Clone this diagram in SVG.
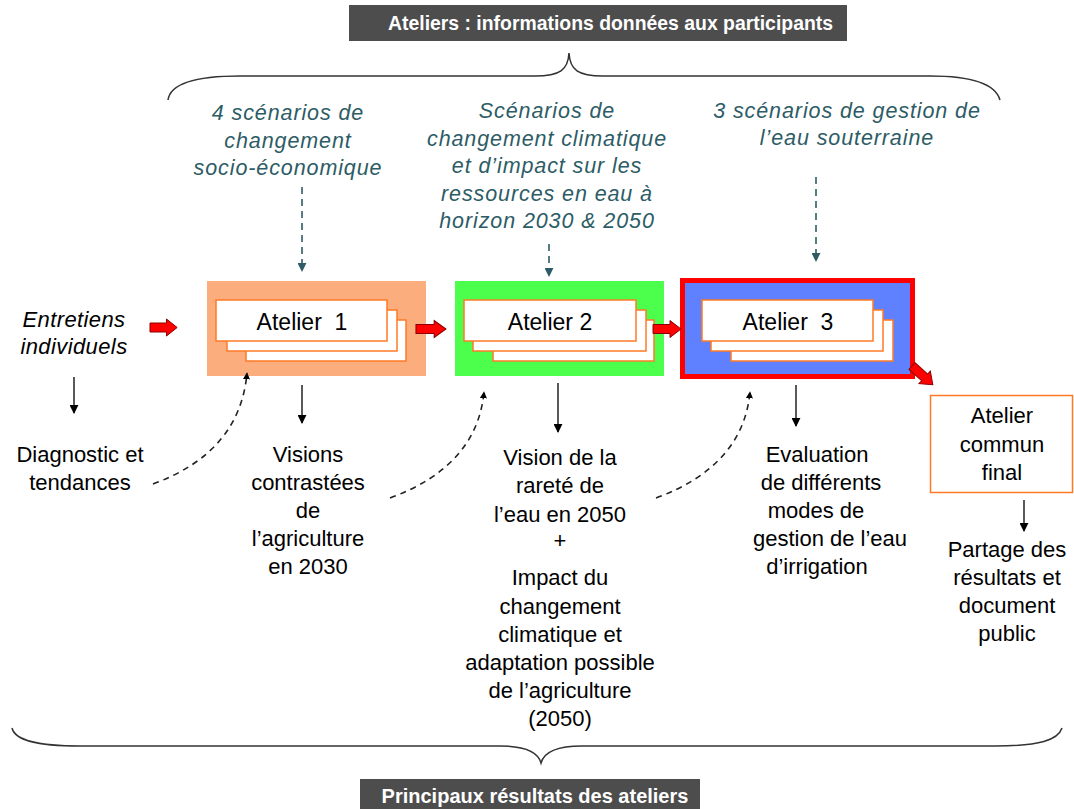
<svg xmlns="http://www.w3.org/2000/svg" width="1074" height="809" viewBox="0 0 1074 809">
<style>
.t{font-family:"Liberation Sans",Arial,sans-serif;font-size:22px;fill:#000;text-anchor:middle}
.it{font-family:"Liberation Sans",Arial,sans-serif;font-size:21.5px;font-style:italic;fill:#2d5c66;text-anchor:middle;letter-spacing:0.9px}
.at{font-family:"Liberation Sans",Arial,sans-serif;font-size:23px;fill:#000;text-anchor:middle}
.card{fill:#fff;stroke:#ff7a26;stroke-width:1.5}
.hdr{fill:#4d4d4d}
.ht{font-family:"Liberation Sans",Arial,sans-serif;fill:#fff}
.brace{fill:none;stroke:#333;stroke-width:1.5}
.dash{fill:none;stroke:#222;stroke-width:1.6;stroke-dasharray:6 5}
.tdash{fill:none;stroke:#2d5c66;stroke-width:1.6;stroke-dasharray:7 5}
.solid{fill:none;stroke:#000;stroke-width:1.3}
.red{fill:#ff0000;stroke:#8a0000;stroke-width:1}
</style>
<defs>
<marker id="ab" viewBox="0 0 10 10" refX="9" refY="5" markerWidth="7" markerHeight="7" markerUnits="userSpaceOnUse" orient="auto"><path d="M0,0 L10,5 L0,10 Z" fill="#000"/></marker>
<marker id="ab2" viewBox="0 0 10 10" refX="9" refY="5" markerWidth="9" markerHeight="9" markerUnits="userSpaceOnUse" orient="auto"><path d="M0,0 L10,5 L0,10 Z" fill="#000"/></marker>
<marker id="at" viewBox="0 0 10 10" refX="9" refY="5" markerWidth="9" markerHeight="9" markerUnits="userSpaceOnUse" orient="auto"><path d="M0,0 L10,5 L0,10 Z" fill="#2d5c66"/></marker>
<path id="rarrow" d="M0,-4.5 L17,-4.5 L17,-8.5 L28,0 L17,8.5 L17,4.5 L0,4.5 Z"/>
</defs>

<g id="header-top">
<rect class="hdr" x="349" y="5" width="498" height="36"/>
<text class="ht" x="388" y="30" font-size="19.4" font-weight="bold">Ateliers : informations données aux participants</text>
</g>
<g id="header-bottom">
<rect class="hdr" x="360" y="779" width="340" height="32"/>
<text class="ht" x="535" y="803" font-size="20" font-weight="bold" text-anchor="middle">Principaux résultats des ateliers</text>
</g>

<g id="braces">
<path class="brace" d="M168,100 C170,86 190,76 240,76 L535,76 C560,76 568,70 569,53 C570,70 578,76 603,76 L930,76 C976,76 996,86 1000,100"/>
<path class="brace" d="M12,728 C15,740 35,746 80,746 L500,746 C526,746 538,752 541,763 C544,752 556,746 582,746 L995,746 C1040,746 1058,740 1062,728"/>
</g>

<g id="scenario1">
<text class="it" x="288" y="120">4 scénarios de</text>
<text class="it" x="288" y="148">changement</text>
<text class="it" x="288" y="175">socio-économique</text>
</g>
<g id="scenario2">
<text class="it" x="547" y="118">Scénarios de</text>
<text class="it" x="547" y="146">changement climatique</text>
<text class="it" x="547" y="173">et d’impact sur les</text>
<text class="it" x="547" y="201">ressources en eau à</text>
<text class="it" x="547" y="228">horizon 2030 &amp; 2050</text>
</g>
<g id="scenario3">
<text class="it" x="847" y="118">3 scénarios de gestion de</text>
<text class="it" x="847" y="145">l’eau souterraine</text>
</g>

<g id="entretiens">
<text class="t" x="74" y="327" font-style="italic" letter-spacing="0.4">Entretiens</text>
<text class="t" x="74" y="354" font-style="italic" letter-spacing="0.4">individuels</text>
</g>

<g id="atelier1">
<rect x="207" y="281" width="219" height="95" fill="#fbad7e"/>
<rect class="card" x="246" y="320" width="160" height="41"/>
<rect class="card" x="227" y="310" width="170" height="41"/>
<rect class="card" x="216" y="300" width="171" height="41"/>
<text class="at" x="302" y="330" xml:space="preserve">Atelier  1</text>
</g>
<g id="atelier2">
<rect x="455" y="281" width="209" height="95" fill="#4dff4d"/>
<rect class="card" x="493" y="320" width="161" height="41"/>
<rect class="card" x="473" y="310" width="173" height="41"/>
<rect class="card" x="464" y="300" width="172" height="41"/>
<text class="at" x="550" y="330">Atelier 2</text>
</g>
<g id="atelier3">
<rect x="682.5" y="280.5" width="230" height="96" fill="#5f80ff" stroke="#ff0000" stroke-width="5"/>
<rect class="card" x="731" y="320" width="162" height="41"/>
<rect class="card" x="711" y="310" width="172" height="41"/>
<rect class="card" x="702" y="300" width="171" height="41"/>
<text class="at" x="788" y="330" xml:space="preserve">Atelier  3</text>
</g>
<g id="atelier-final">
<rect x="930.5" y="395.5" width="142" height="97" fill="#fff" stroke="#ff7a26" stroke-width="1.5"/>
<text class="t" x="1002" y="423">Atelier</text>
<text class="t" x="1002" y="452">commun</text>
<text class="t" x="1002" y="480">final</text>
</g>

<g id="result0">
<text class="t" x="80" y="462">Diagnostic et</text>
<text class="t" x="80" y="490">tendances</text>
</g>
<g id="result1">
<text class="t" x="308" y="462">Visions</text>
<text class="t" x="308" y="490">contrastées</text>
<text class="t" x="308" y="518">de</text>
<text class="t" x="308" y="546">l’agriculture</text>
<text class="t" x="308" y="574">en 2030</text>
</g>
<g id="result2">
<text class="t" x="560" y="465">Vision de la</text>
<text class="t" x="560" y="493">rareté de</text>
<text class="t" x="560" y="522">l’eau en 2050</text>
<text class="t" x="560" y="548">+</text>
<text class="t" x="560" y="585">Impact du</text>
<text class="t" x="560" y="614">changement</text>
<text class="t" x="560" y="642">climatique et</text>
<text class="t" x="560" y="670">adaptation possible</text>
<text class="t" x="560" y="698">de l’agriculture</text>
<text class="t" x="560" y="726">(2050)</text>
</g>
<g id="result3">
<text class="t" x="817" y="462">Evaluation</text>
<text class="t" x="821" y="490">de différents</text>
<text class="t" x="816" y="518">modes de</text>
<text class="t" x="830" y="546">gestion de l’eau</text>
<text class="t" x="817" y="574">d’irrigation</text>
</g>
<g id="result4">
<text class="t" x="1007" y="557">Partage des</text>
<text class="t" x="1007" y="585">résultats et</text>
<text class="t" x="1007" y="613">document</text>
<text class="t" x="1007" y="641">public</text>
</g>

<g id="connectors">
<line class="tdash" x1="302" y1="187" x2="302" y2="271" marker-end="url(#at)"/>
<line class="tdash" x1="549" y1="244" x2="549" y2="276" marker-end="url(#at)"/>
<line class="tdash" x1="816" y1="177" x2="816" y2="261" marker-end="url(#at)"/>

<use href="#rarrow" class="red" transform="translate(150,327.5) scale(0.97,1)"/>
<use href="#rarrow" class="red" transform="translate(416,329) scale(1.07,1)"/>
<use href="#rarrow" class="red" transform="translate(653,329)"/>
<use href="#rarrow" class="red" transform="translate(912,366) rotate(42)"/>

<line class="solid" x1="74" y1="377" x2="74" y2="413" marker-end="url(#ab2)"/>
<line class="solid" x1="302" y1="385" x2="302" y2="423" marker-end="url(#ab2)"/>
<line class="solid" x1="558" y1="383" x2="558" y2="432" marker-end="url(#ab2)"/>
<line class="solid" x1="796" y1="385" x2="796" y2="426" marker-end="url(#ab2)"/>
<line class="solid" x1="1024" y1="500" x2="1024" y2="531" marker-end="url(#ab2)"/>

<path class="dash" d="M153,484 Q240,452 247,373" marker-end="url(#ab)"/>
<path class="dash" d="M390,498 Q477,466 484,392" marker-end="url(#ab)"/>
<path class="dash" d="M656,498 Q743,466 750,392" marker-end="url(#ab)"/>
</g>
</svg>
